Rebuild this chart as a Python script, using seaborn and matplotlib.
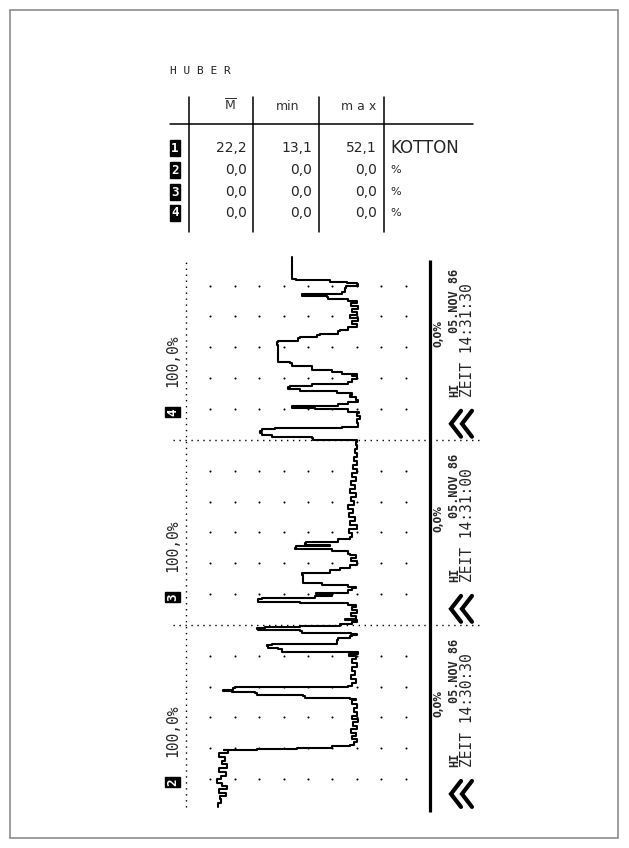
import numpy as np
import pandas as pd
import matplotlib.pyplot as plt
import seaborn as sns

# recorder trace: (seconds after 14:30:30, percent)
window_1 = [(0.5, 86.9), (1.1, 85.7), (1.8, 86.1), (2.3, 83.6), (2.8, 86.5), (3.4, 83.2),
            (3.9, 85.2), (4.4, 87.3), (5.0, 85.7), (5.5, 83.6), (6.2, 86.5), (6.8, 83.2),
            (7.5, 85.2), (7.9, 84.0), (8.6, 86.5), (9.2, 82.8), (9.7, 84.4), (9.7, 70.9),
            (9.9, 70.5), (9.9, 54.5), (10.0, 54.1), (10.0, 40.2), (10.4, 39.8), (10.4, 32.8),
            (10.5, 31.1), (11.0, 29.9), (11.5, 32.0), (12.0, 30.3), (12.5, 32.4), (13.1, 29.9),
            (13.6, 31.6), (14.3, 29.5), (14.7, 32.0), (15.2, 29.9), (15.9, 31.1), (16.5, 29.9),
            (17.2, 32.0), (17.8, 30.3), (18.0, 32.8), (18.2, 51.2), (18.5, 52.0), (18.6, 70.9),
            (19.0, 71.7), (19.1, 81.1), (19.3, 84.8), (19.4, 80.7), (19.8, 79.9), (19.9, 33.6),
            (20.1, 32.0), (20.6, 30.3), (21.2, 32.4), (21.9, 30.7), (22.5, 32.0), (23.2, 29.9),
            (23.8, 32.0), (24.5, 30.3), (25.0, 33.2), (25.3, 29.5), (25.6, 32.4), (25.6, 60.7),
            (26.1, 62.3), (26.3, 66.4), (26.6, 66.8), (26.7, 64.8), (26.9, 38.1), (27.6, 37.7),
            (27.9, 32.8), (28.2, 32.0), (28.4, 29.9), (28.5, 32.4), (28.7, 52.5), (29.0, 53.3),
            (29.2, 70.5), (29.3, 70.9), (29.5, 67.6), (29.7, 53.3), (29.8, 36.9)]
window_2 = [(30.1, 32.0), (30.5, 29.9), (30.8, 34.8), (31.0, 30.3), (31.4, 32.4), (31.9, 29.9),
            (32.4, 32.0), (32.9, 30.3), (33.2, 33.6), (33.5, 53.3), (33.7, 70.5), (34.2, 68.9),
            (34.4, 47.1), (34.7, 40.2), (35.0, 46.7), (35.2, 39.8), (35.2, 33.6), (35.7, 32.0),
            (36.0, 30.3), (36.1, 33.6), (36.5, 44.3), (36.8, 52.0), (38.1, 52.5), (38.4, 41.0),
            (38.9, 36.9), (39.2, 32.8), (39.7, 29.9), (40.4, 32.4), (40.8, 30.3), (41.3, 32.8),
            (41.5, 33.6), (42.0, 40.2), (42.3, 55.3), (42.5, 54.9), (42.8, 41.0), (42.9, 51.2),
            (43.3, 50.8), (43.4, 37.7), (43.9, 32.8), (44.2, 32.0), (44.9, 33.2), (45.5, 29.9),
            (46.2, 32.8), (46.8, 30.7), (47.5, 33.2), (48.1, 31.6), (48.8, 33.6), (49.4, 31.1),
            (50.1, 32.4), (50.7, 30.3), (51.4, 32.8), (52.0, 30.7), (52.7, 32.4), (53.3, 30.3),
            (54.0, 32.0), (54.6, 29.9), (55.3, 31.6), (55.9, 29.9), (56.6, 31.1), (57.2, 29.9),
            (57.9, 30.7), (58.5, 29.9), (59.2, 30.3), (59.6, 29.9)]
window_3 = [(60.0, 48.0), (60.3, 48.4), (60.5, 64.8), (60.8, 68.9), (61.1, 69.7), (61.4, 68.9),
            (61.8, 63.5), (61.9, 36.1), (62.1, 29.5), (62.7, 29.9), (63.4, 28.7), (63.9, 29.9),
            (64.3, 29.1), (64.5, 33.6), (65.0, 47.1), (65.2, 56.6), (65.5, 56.1), (65.5, 37.7),
            (65.8, 33.6), (66.1, 29.5), (66.5, 30.3), (66.9, 32.8), (67.3, 32.0), (67.6, 38.1),
            (67.9, 53.3), (68.2, 58.2), (68.6, 57.4), (68.7, 48.4), (69.0, 33.6), (69.4, 32.0),
            (69.9, 29.9), (70.3, 32.0), (70.5, 29.9), (70.7, 36.1), (71.0, 40.2), (71.3, 48.4),
            (72.0, 56.6), (72.4, 57.4), (72.6, 62.3), (75.4, 62.7), (75.9, 62.3), (76.0, 54.1),
            (76.5, 53.3), (76.7, 46.3), (77.0, 45.1), (77.1, 37.7), (77.6, 36.9), (77.8, 33.6),
            (78.3, 29.9), (78.8, 32.0), (79.3, 29.5), (79.7, 32.8), (80.2, 29.9), (80.7, 32.0),
            (81.2, 29.5), (81.7, 32.4), (82.2, 29.9), (82.5, 33.6), (82.8, 41.8), (83.1, 42.2),
            (83.3, 52.5), (83.6, 52.0), (83.6, 36.1), (84.0, 34.8), (84.6, 34.4), (84.9, 29.5),
            (85.3, 29.9), (85.4, 34.0), (85.6, 41.0), (85.9, 54.9), (86.1, 56.6), (89.6, 56.6)]

grid_seconds = [5, 10, 15, 20, 25, 35, 40, 45, 50, 55, 65, 70, 75, 80, 85]
grid_percent = [10, 20, 30, 40, 50, 60, 70, 80, 90]
window_starts = [0, 30, 60]
window_clock = ['14:30:30', '14:31:00', '14:31:30']
window_channel = ['2', '3', '4']

channels = ['1', '2', '3', '4']
mean_vals = ['22,2', '0,0', '0,0', '0,0']
min_vals = ['13,1', '0,0', '0,0', '0,0']
max_vals = ['52,1', '0,0', '0,0', '0,0']
units = ['KOTTON', '%', '%', '%']

trace = pd.DataFrame(window_1 + window_2 + window_3, columns=['sec', 'pct'])

sns.set_style('white')
plt.rcParams['font.family'] = ['DejaVu Sans']
MONO = 'DejaVu Sans Mono'

W, H = 629, 848
fig = plt.figure(figsize=(W / 100, H / 100), dpi=100)

# whole page in pixel units for the frame and the table
page = fig.add_axes([0, 0, 1, 1])
page.set_xlim(0, W)
page.set_ylim(H, 0)
page.axis('off')
page.add_patch(plt.Rectangle((10, 10), 608, 828, fill=False, ec='#8c8c8c', lw=1.2))

page.text(170, 71, 'H U B E R', family=MONO, fontsize=8, va='center', color='#222222')
for xl in [189, 253, 319, 384]:
    page.plot([xl, xl], [97, 232], color='black', lw=1.1)
page.plot([170, 473], [124, 124], color='black', lw=1.1)
page.text(230, 106, r'$\overline{\mathrm{M}}$', ha='center', va='center', fontsize=9, color='#333333')
page.text(288, 107, 'min', ha='center', va='center', fontsize=9, color='#333333')
page.text(359, 107, 'm a x', ha='center', va='center', fontsize=9, color='#333333')

row_y = [148, 170, 192, 213]
for i in range(len(channels)):
    page.text(175, row_y[i], channels[i], ha='center', va='center', fontsize=9, weight='bold',
              color='white', family=MONO,
              bbox=dict(boxstyle='square,pad=0.1', fc='black', ec='black'))
    page.text(247, row_y[i], mean_vals[i], ha='right', va='center', fontsize=10)
    page.text(312, row_y[i], min_vals[i], ha='right', va='center', fontsize=10)
    page.text(377, row_y[i], max_vals[i], ha='right', va='center', fontsize=10)
    page.text(390, row_y[i], units[i], ha='left', va='center', fontsize=12 if i == 0 else 8)

# strip chart: time runs upward, 100 % on the left
ax = fig.add_axes([186 / W, (H - 810) / H, (430 - 186) / W, (810 - 254.7) / H])
sns.lineplot(data=trace, x='pct', y='sec', sort=False, estimator=None,
             drawstyle='steps-pre', color='black', lw=1.5, ax=ax)
ax.set_xlim(100, 0)
ax.set_ylim(0, 90)
ax.axis('off')

gx, gy = np.meshgrid(grid_percent, grid_seconds)
ax.scatter(gx.ravel(), gy.ravel(), s=2.2, color='black', lw=0)
dots = (0, (1, 3.3))
ax.plot([100, 100], [0.5, 89.1], color='black', lw=1.0, ls=dots, clip_on=False)
for t in window_starts[1:]:
    ax.plot([105.5, -20.5], [t, t], color='black', lw=1.0, ls=dots, clip_on=False)
ax.plot([0, 0], [-0.3, 89.2], color='black', lw=2.3, clip_on=False, solid_capstyle='butt')

rot = dict(rotation=90, rotation_mode='anchor', ha='left', va='center')
for k, t0 in enumerate(window_starts):
    ax.text(-3.5, t0 + 15.1, '0,0%', fontsize=7, weight='bold', **rot)
    ax.text(-10.0, t0 + 7.0, 'HI', family=MONO, fontsize=8.5, weight='bold', **rot)
    ax.text(-10.0, t0 + 17.3, '05.NOV 86', family=MONO, fontsize=8.5, weight='bold', **rot)
    ax.text(-15.4, t0 + 7.0, 'ZEIT ' + window_clock[k], family=MONO, fontsize=10.5,
            **rot)
    for off in [0, 4.5]:
        ax.plot([-12.7 - off, -8.6 - off, -12.7 - off], [t0 + 4.7, t0 + 2.6, t0 + 0.5],
                color='black', lw=3, clip_on=False, solid_joinstyle='miter')
    ax.text(105.3, t0 + 8.6, '100,0%', family=MONO, fontsize=10.5, **rot)
    ax.text(105.5, t0 + 4.5, window_channel[k], family=MONO, fontsize=9, weight='bold',
            color='white', rotation=90, ha='center', va='center',
            bbox=dict(boxstyle='square,pad=0.1', fc='black', ec='black'))

fig.savefig('out.png', dpi=100)
